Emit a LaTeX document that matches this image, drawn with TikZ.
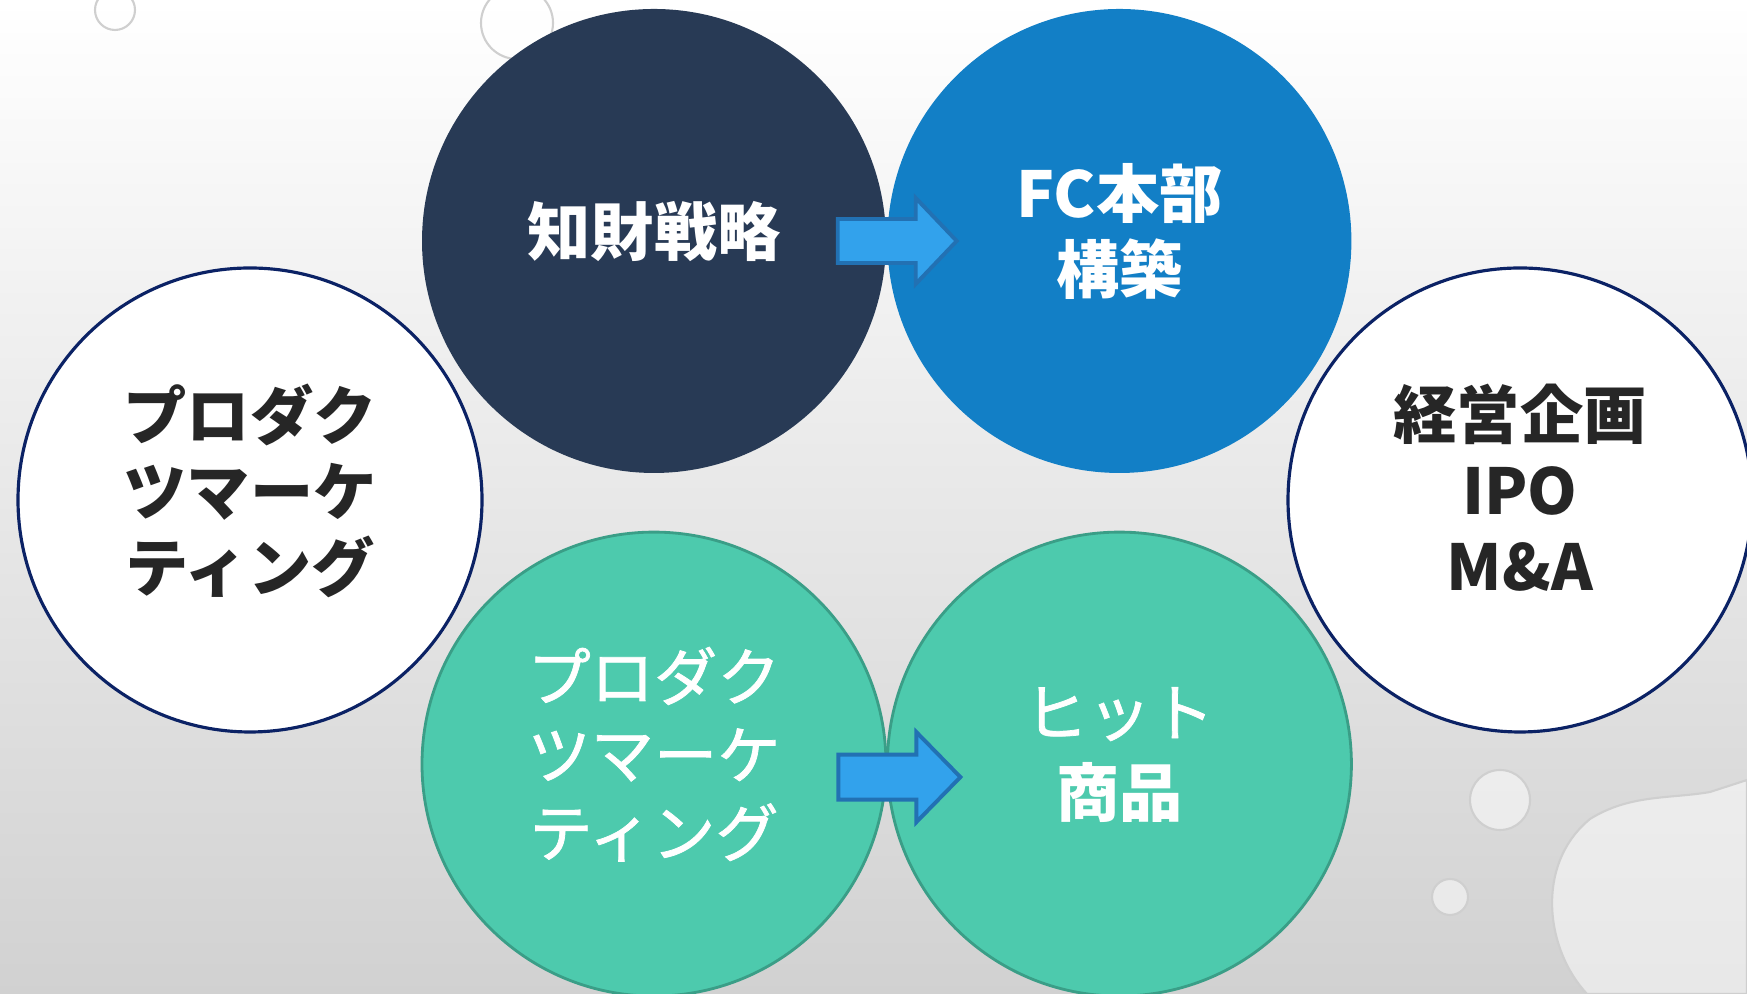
\documentclass[tikz,border=0pt]{standalone}
\usepackage{fontspec}
\usepackage{xcolor}
\usepackage{tikz}
\usetikzlibrary{positioning, calc}
\newfontfamily\jpfont{Noto Sans CJK JP}
\newfontfamily\jpmedium[FakeBold=1.2]{Noto Sans CJK JP}
\definecolor{navycolor}{RGB}{40, 58, 85}
\definecolor{fccolor}{RGB}{18, 127, 198}
\definecolor{tealcolor}{RGB}{77, 202, 173}
\definecolor{tealedge}{RGB}{58, 158, 135}
\definecolor{ringcolor}{RGB}{11, 34, 101}
\definecolor{arrowfill}{RGB}{50, 162, 236}
\definecolor{arrowedge}{RGB}{34, 113, 179}
\definecolor{inkcolor}{RGB}{38, 38, 38}

\begin{document}
\begin{tikzpicture}[
    node distance=0.57cm,
    disc/.style={circle, minimum size=4.64cm, inner sep=0pt, align=center, text depth=7pt, font=\jpfont\bfseries\fontsize{18}{21.6}\selectfont},
    ring/.style={disc, fill=white, draw=ringcolor, line width=0.9pt, text=inkcolor},
    mint/.style={disc, fill=tealcolor, draw=tealedge, line width=0.8pt, text=white},
    blockarrow/.style={fill=arrowfill, draw=arrowedge, line width=1.1pt, line join=miter},
    drop/.style={fill=white, fill opacity=0.5, draw=gray!38, line width=0.6pt}
]
    % background
    \shade[top color=white, bottom color=black!18] (0,0) rectangle (17.47,9.94);
    \useasboundingbox (0,0) rectangle (17.47,9.94);
    \draw[drop] (1.15,9.84) circle (0.2);
    \draw[drop] (5.17,9.71) circle (0.36);
    \draw[drop] (15.00,1.94) circle (0.30);
    \draw[drop] (14.50,0.97) circle (0.18);
    \draw[drop] (15.87,0) .. controls (15.45,0.45) and (15.35,1.3) .. (15.9,1.75) .. controls (16.3,2.0) and (16.7,1.95) .. (17.1,2.02) -- (17.47,2.14) -- (17.47,0) -- cycle;

    % circles
    \node[disc, fill=navycolor, text=white] (ipstrat) at (6.54,7.53) {知財戦略};
    \node[disc, fill=fccolor, text=white, right=0cm of ipstrat] (fchq) {FC本部\\構築};
    \node[mint, below=of ipstrat, font=\jpmedium\fontsize{18}{22.2}\selectfont] (prodmkt) {プロダク\\ツマーケ\\ティング};
    \node[mint, below=of fchq, font=\jpmedium\fontsize{18}{22.8}\selectfont] (hitprod) {ヒット\\\jpfont\bfseries 商品};
    \node[ring] (prodleft) at (2.50,4.94) {プロダク\\ツマーケ\\ティング};
    \node[ring] (mgmt) at (15.20,4.94) {経営企画\\IPO\\M\&A};

    % block arrows
    \coordinate (topstart) at ($(ipstrat.east)+(-0.49,0)$);
    \coordinate (lowstart) at ($(prodmkt.east)+(-0.49,-0.13)$);
    \draw[blockarrow] (topstart) ++(0,0.22) -- ++(0.78,0) -- ++(0,0.21) -- ++(0.41,-0.43) -- ++(-0.41,-0.43) -- ++(0,0.21) -- ++(-0.78,0) -- cycle;
    \draw[blockarrow] (lowstart) ++(0,0.225) -- ++(0.78,0) -- ++(0,0.225) -- ++(0.44,-0.45) -- ++(-0.44,-0.45) -- ++(0,0.225) -- ++(-0.78,0) -- cycle;
\end{tikzpicture}
\end{document}
